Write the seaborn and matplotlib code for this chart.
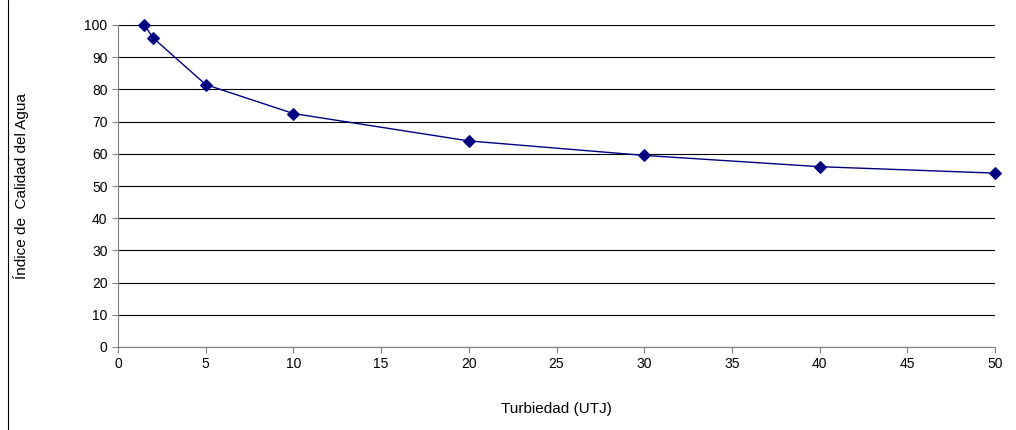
import pandas as pd
import seaborn as sns
import matplotlib.pyplot as plt

turbiedad = [1.5, 2, 5, 10, 20, 30, 40, 50]
indice = [100, 96, 81.5, 72.5, 64, 59.5, 56, 54]

data = pd.DataFrame({"x": turbiedad, "y": indice})

sns.set_style("white")
plt.rcParams["font.family"] = ["Liberation Sans", "DejaVu Sans"]
plt.rcParams["text.color"] = "black"
plt.rcParams["axes.labelcolor"] = "black"

fig = plt.figure(figsize=(10.16, 4.30), dpi=100)
ax = fig.add_axes([118 / 1016, 83 / 430, 877 / 1016, 322 / 430])

sns.lineplot(data=data, x="x", y="y", ax=ax, color="#000080", linewidth=1,
             marker="D", markersize=6, markeredgecolor="#000080", clip_on=False)

ax.set_xlim(0, 50)
ax.set_ylim(0, 100)
ax.set_xticks(range(0, 51, 5))
ax.set_yticks(range(0, 101, 10))
ax.yaxis.grid(True, color="black", linewidth=0.8)
ax.xaxis.grid(False)
for s in ["top", "right"]:
    ax.spines[s].set_visible(False)
for s in ["left", "bottom"]:
    ax.spines[s].set_color("#808080")
ax.tick_params(axis="both", labelsize=10, length=4, direction="out", color="#808080",
               labelcolor="black", left=True, bottom=True)
ax.set_xlabel("Turbiedad (UTJ)", fontsize=11, labelpad=22)
ax.set_ylabel("Índice de  Calidad del Agua", fontsize=11, labelpad=40)

# chart frame line
fig.add_artist(plt.Line2D([8 / 1016, 8 / 1016], [0, 1], color="black", linewidth=0.8))

fig.savefig("out.png", dpi=100)
